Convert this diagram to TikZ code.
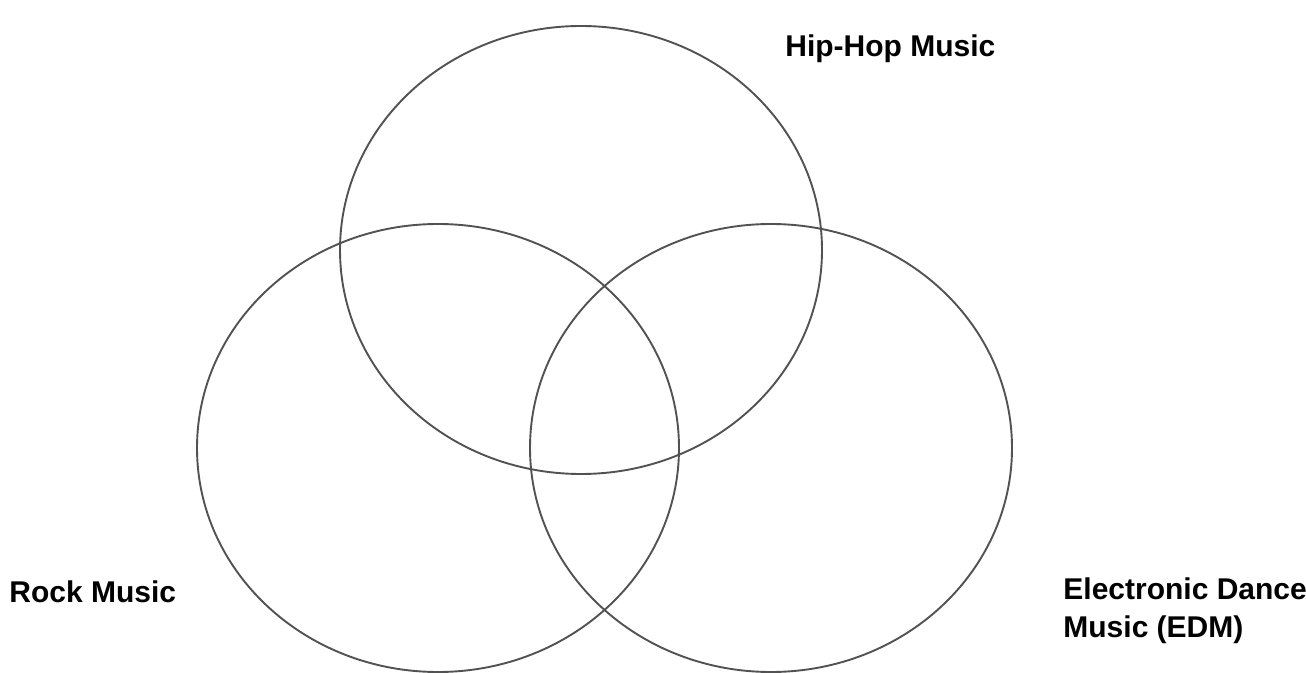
\documentclass[tikz,border=0pt]{standalone}
\usepackage{fontspec}
\setmainfont{Liberation Sans}
\usetikzlibrary{shapes.geometric}

\begin{document}
\begin{tikzpicture}[
  x=0.5pt, y=-0.5pt,
  genre/.style={draw=black!68, line width=0.95pt, ellipse, inner sep=0pt,
    minimum width=241pt, minimum height=224pt},
  caption/.style={inner sep=0pt, font=\fontsize{15}{19}\selectfont\bfseries, text=black},
]
\useasboundingbox (0,0) rectangle (1306,673);
\node[genre] (hiphop) at (581,250) {};
\node[genre] (rock)   at (438,448) {};
\node[genre] (edm)    at (771,448) {};
% Labels
\node[caption, anchor=base west] (hiphoplabel) at (785,57) {Hip-Hop Music};
\node[caption, anchor=base west] (rocklabel)   at (9,602)  {Rock Music};
\node[caption, anchor=north west, align=left] (edmlabel) at (1063,577)
  {Electronic Dance\\Music (EDM)};
\end{tikzpicture}
\end{document}
